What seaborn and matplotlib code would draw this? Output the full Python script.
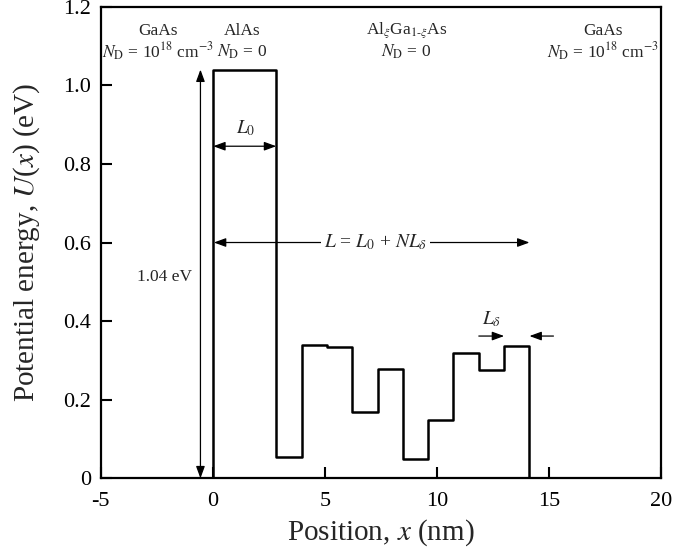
import matplotlib
matplotlib.use("Agg")
import matplotlib.pyplot as plt
from matplotlib import font_manager
import seaborn as sns
import pandas as pd
import numpy as np

# ---- data ----
# step edges (nm) and potential levels (eV); level i holds from edge i to edge i+1
edges = [-5, 0, 2.83, 3.96, 5.09, 6.22, 7.35, 8.48, 9.61, 10.74, 11.87, 13.0, 14.13, 20]
levels = [0, 1.04, 0.054, 0.339, 0.335, 0.169, 0.279, 0.049, 0.148, 0.320, 0.276, 0.336, 0, 0]

x_ticks = [-5, 0, 5, 10, 15, 20]
x_tick_labels = ["-5", "0", "5", "10", "15", "20"]
y_ticks = [0, 0.2, 0.4, 0.6, 0.8, 1.0, 1.2]
y_tick_labels = ["0", "0.2", "0.4", "0.6", "0.8", "1.0", "1.2"]

region_names = ["GaAs", "AlAs", "Al$_{\\xi}$Ga$_{1\\text{-}\\xi}$As", "GaAs"]
region_doping = ["$N_\\mathrm{D}$ = 10$^{18}$ cm$^{-3}$", "$N_\\mathrm{D}$ = 0",
                 "$N_\\mathrm{D}$ = 0", "$N_\\mathrm{D}$ = 10$^{18}$ cm$^{-3}$"]
region_x = [-2.45, 1.32, 8.64, 17.4]

barrier_height = 1.04
L0_end = 2.83
L_end = 14.13
Ld_start = 11.87
Ld_end = 13.0

df = pd.DataFrame({"x": edges, "U": levels})

sns.set_style("ticks")
available = {f.name for f in font_manager.fontManager.ttflist}
serif_choices = [n for n in ["Liberation Serif", "Times New Roman", "STIXGeneral", "DejaVu Serif"]
                 if n in available]
plt.rcParams["font.family"] = "serif"
plt.rcParams["font.serif"] = serif_choices
plt.rcParams["mathtext.fontset"] = "stix"

fig = plt.figure(figsize=(6.75, 5.54), dpi=100)
ax = fig.add_axes([0.1492, 0.1366, 0.9793 - 0.1492, 0.9879 - 0.1366])

sns.lineplot(data=df, x="x", y="U", ax=ax, drawstyle="steps-post", color="black",
             lw=1.8, estimator=None, sort=False)

ax.set_xlim(-5, 20)
ax.set_ylim(0, 1.2)
ax.set_xticks(x_ticks)
ax.set_xticklabels(x_tick_labels)
ax.set_yticks(y_ticks)
ax.set_yticklabels(y_tick_labels)
ax.tick_params(direction="in", length=8, width=1.5, labelsize=16, pad=7,
               top=False, right=False, colors="black")
ax.tick_params(axis="x", pad=10)
for s in ax.spines.values():
    s.set_linewidth(1.6)
    s.set_color("black")
    s.set_visible(True)

ax.set_xlabel("Position, $x$ (nm)", fontsize=21)
ax.set_ylabel("Potential energy, $U$($x$) (eV)", fontsize=21)
ax.yaxis.set_label_coords(-0.105, 0.5)
ax.xaxis.set_label_coords(0.5, -0.083)

# region labels
for xn, name, dop in zip(region_x, region_names, region_doping):
    ax.text(xn, 1.139, name, ha="center", va="center", fontsize=12.5)
    ax.text(xn, 1.085, dop, ha="center", va="center", fontsize=12.5)

arrow_kw = dict(arrowstyle="<|-|>,head_length=0.6,head_width=0.22", lw=0.9,
                color="black", shrinkA=0, shrinkB=0, mutation_scale=12)
one_kw = dict(arrowstyle="-|>,head_length=0.6,head_width=0.22", lw=0.9,
              color="black", shrinkA=0, shrinkB=0, mutation_scale=12)

# barrier height arrow
ax.annotate("", xy=(-0.55, barrier_height), xytext=(-0.55, 0), arrowprops=arrow_kw)
ax.text(-0.94, 0.513, "1.04 eV", ha="right", va="center", fontsize=12.5)

# L0 arrow
ax.annotate("", xy=(0.02, 0.845), xytext=(L0_end, 0.845), arrowprops=arrow_kw)
ax.text(L0_end / 2 + 0.05, 0.89, "$L_0$", ha="center", va="center", fontsize=14)

# total length arrow
ax.annotate("", xy=(0.05, 0.6), xytext=(L_end, 0.6), arrowprops=arrow_kw)
ax.text(7.25, 0.6, "$L$ = $L_0$ + $NL_\\delta$", ha="center", va="center", fontsize=14,
        bbox=dict(facecolor="white", edgecolor="none", pad=2))

# L delta arrows
ax.annotate("", xy=(Ld_end, 0.362), xytext=(Ld_start, 0.362), arrowprops=one_kw)
ax.annotate("", xy=(L_end, 0.362), xytext=(15.2, 0.362), arrowprops=one_kw)
ax.text(12.45, 0.405, "$L_\\delta$", ha="center", va="center", fontsize=14)

fig.savefig("out.png", dpi=100)
